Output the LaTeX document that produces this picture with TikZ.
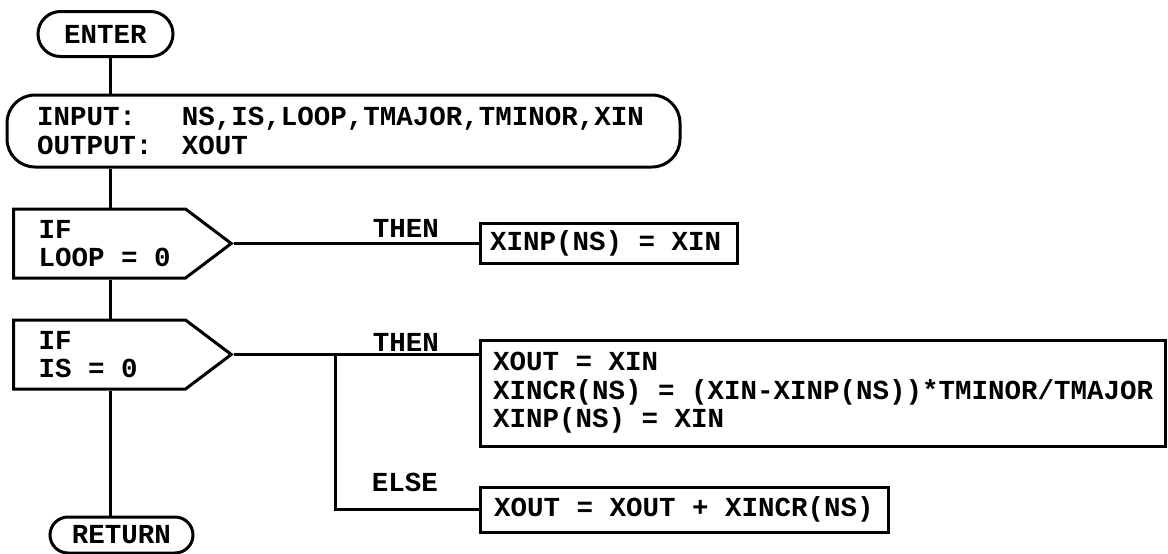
\documentclass[tikz,border=0pt]{standalone}
\usepackage{fontspec}
\setmonofont{Liberation Mono}
\usetikzlibrary{positioning,shapes.symbols,shapes.misc}
\newcommand\flowfont{\ttfamily\bfseries\fontsize{27.5}{28.5}\selectfont}

\begin{document}
\begin{tikzpicture}[x=1pt, y=-1pt, line width=3pt,
  nodes={font=\flowfont},
  terminal/.style={draw, rounded rectangle, minimum height=45pt, inner sep=0pt},
  io/.style={draw, rounded corners=28pt, minimum height=72pt,
    align=flush left, inner ysep=0pt},
  test/.style={draw, signal, signal to=east, signal pointer angle=74,
    minimum height=69pt, inner xsep=25pt, text width=122pt, align=flush left},
  action/.style={draw, rectangle, align=flush left, inner ysep=0pt},
  lbl/.style={inner sep=0pt}
  ]
  \useasboundingbox (0,0) rectangle (1168,554);
  \coordinate (spine) at (110,0);
  \coordinate (split) at (335,0);

  \node (enter) [terminal, minimum width=135pt] at (105.5,34) {ENTER};
  \node (args) [io, minimum width=673pt, inner xsep=30pt, text width=613pt]
    at (343.5,131)
    {\makebox[145pt][l]{INPUT:}NS,IS,LOOP,TMAJOR,TMINOR,XIN\\
     \makebox[145pt][l]{OUTPUT:}XOUT};
  \node (ifloop) [test, anchor=west] at (12,243.5) {IF\\LOOP~=~0};
  \node (ifis) [test, anchor=west] at (12,354.5) {IF\\IS~=~0};
  \node (return) [terminal, minimum width=143pt, minimum height=36pt]
    at (121.5,535) {RETURN};

  \node (xinp) [action, minimum width=257pt, minimum height=40pt,
    inner xsep=10pt, text width=237pt] at (608.5,243) {XINP(NS)~=~XIN};
  \node (calc) [action, minimum width=685pt, minimum height=106pt,
    inner xsep=13pt, text width=659pt] at (822.5,393)
    {XOUT~=~XIN\\XINCR(NS)~=~(XIN-XINP(NS))*TMINOR/TMAJOR\\XINP(NS)~=~XIN};
  \node (incr) [action, minimum width=408pt, minimum height=45pt,
    inner xsep=14pt, text width=380pt] at (684,509.5)
    {XOUT~=~XOUT~+~XINCR(NS)};

  \node (then1) [lbl] at (406,228) {THEN};
  \node (then2) [lbl] at (406,342) {THEN};
  \node (else) [lbl] at (405,482) {ELSE};

  % main line
  \draw (enter.south -| spine) -- (args.north -| spine);
  \draw (args.south -| spine) -- (ifloop.north -| spine);
  \draw (ifloop.south -| spine) -- (ifis.north -| spine);
  \draw (ifis.south -| spine) -- (return.north -| spine);
  % branches
  \draw (ifloop.east) -- (ifloop.east -| xinp.west);
  \draw (ifis.east) -- (ifis.east -| calc.west);
  \draw (ifis.east -| split) |- (incr.west);
\end{tikzpicture}
\end{document}
